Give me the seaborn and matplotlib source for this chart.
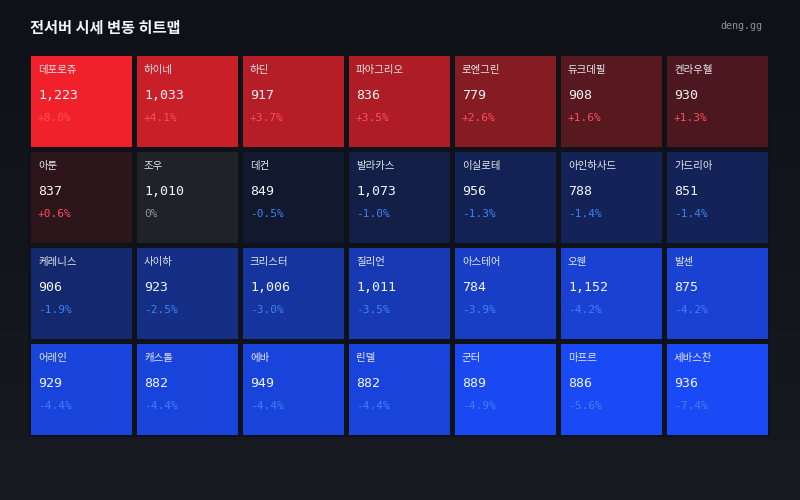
import numpy as np
import pandas as pd
import seaborn as sns
import matplotlib.pyplot as plt
from matplotlib.colors import LinearSegmentedColormap, ListedColormap

# 서버 이름 / 시세 / 변동률 (행 단위 4x7)
servers = ["데포로쥬", "하이네", "하딘", "파아그리오", "로엔그린", "듀크데필", "켄라우헬",
           "아툰", "조우", "데컨", "발라카스", "이실로테", "아인하사드", "가드리아",
           "케레니스", "사이하", "크리스터", "질리언", "아스테어", "오웬", "발센",
           "어레인", "캐스톨", "에바", "린델", "군터", "마프르", "세바스찬"]
prices = [1223, 1033, 917, 836, 779, 908, 930,
          837, 1010, 849, 1073, 956, 788, 851,
          906, 923, 1006, 1011, 784, 1152, 875,
          929, 882, 949, 882, 889, 886, 936]
changes = [8.0, 4.1, 3.7, 3.5, 2.6, 1.6, 1.3,
           0.6, 0.0, -0.5, -1.0, -1.3, -1.4, -1.4,
           -1.9, -2.5, -3.0, -3.5, -3.9, -4.2, -4.2,
           -4.4, -4.4, -4.4, -4.4, -4.9, -5.6, -7.4]
n_rows, n_cols = 4, 7

sns.set_theme(style="white")
plt.rcParams['font.family'] = ['Noto Sans CJK KR', 'DejaVu Sans']

bg = "#0f1218"
fig = plt.figure(figsize=(8, 5), dpi=100)
fig.patch.set_facecolor(bg)

# 배경 그라데이션
bg_ax = fig.add_axes([0, 0, 1, 1])
grad = np.linspace(0, 1, 100).reshape(-1, 1)
bg_ax.imshow(grad, aspect="auto", extent=[0, 1, 0, 1],
             cmap=LinearSegmentedColormap.from_list("bg", ["#0e1117", "#171b21"]))
bg_ax.axis("off")

grid = pd.DataFrame(np.array(changes).reshape(n_rows, n_cols))
cmap = LinearSegmentedColormap.from_list("chg", ["#1a4af5", "#11141a", "#f0212b"])

ax = fig.add_axes([27.5 / 800, 1 - 436.5 / 500, 742 / 800, 384 / 500])
sns.heatmap(grid, mask=(grid == 0), cmap=cmap, vmin=-5, vmax=5, cbar=False,
            linewidths=5 * 0.72, linecolor="#0f1218", ax=ax)
sns.heatmap(grid, mask=(grid != 0), cmap=ListedColormap(["#1f2328"]), cbar=False,
            linewidths=5 * 0.72, linecolor="#0f1218", ax=ax)
ax.set(xticks=[], yticks=[], xlabel=None, ylabel=None)

for k, (name, price, chg) in enumerate(zip(servers, prices, changes)):
    i, j = divmod(k, n_cols)
    x = j + 0.099
    ax.text(x, i + 0.178, name, color="#e4e7ec", fontsize=7.5, fontweight="medium",
            va="center", ha="left", family=['Noto Sans CJK KR'])
    ax.text(x, i + 0.448, f"{price:,}", color="#f2f4f7", fontsize=9.5,
            va="center", ha="left", family=['DejaVu Sans Mono'])
    if chg > 0:
        pct, col = f"+{chg:.1f}%", "#ff4d5e"
    elif chg < 0:
        pct, col = f"{chg:.1f}%", "#3b82f6"
    else:
        pct, col = "0%", "#8b929c"
    ax.text(x, i + 0.685, pct, color=col, fontsize=8,
            va="center", ha="left", family=['DejaVu Sans Mono'])

fig.text(30 / 800, 1 - 28 / 500, "전서버 시세 변동 히트맵", color="#f2f4f7",
         fontsize=11, fontweight="bold", va="center", ha="left",
         family=['Noto Sans CJK KR'])
fig.text(762 / 800, 1 - 26 / 500, "deng.gg", color="#8b929c", fontsize=7.2,
         va="center", ha="right", family=['DejaVu Sans Mono'])

plt.savefig("out.png", dpi=100, facecolor=fig.get_facecolor())
